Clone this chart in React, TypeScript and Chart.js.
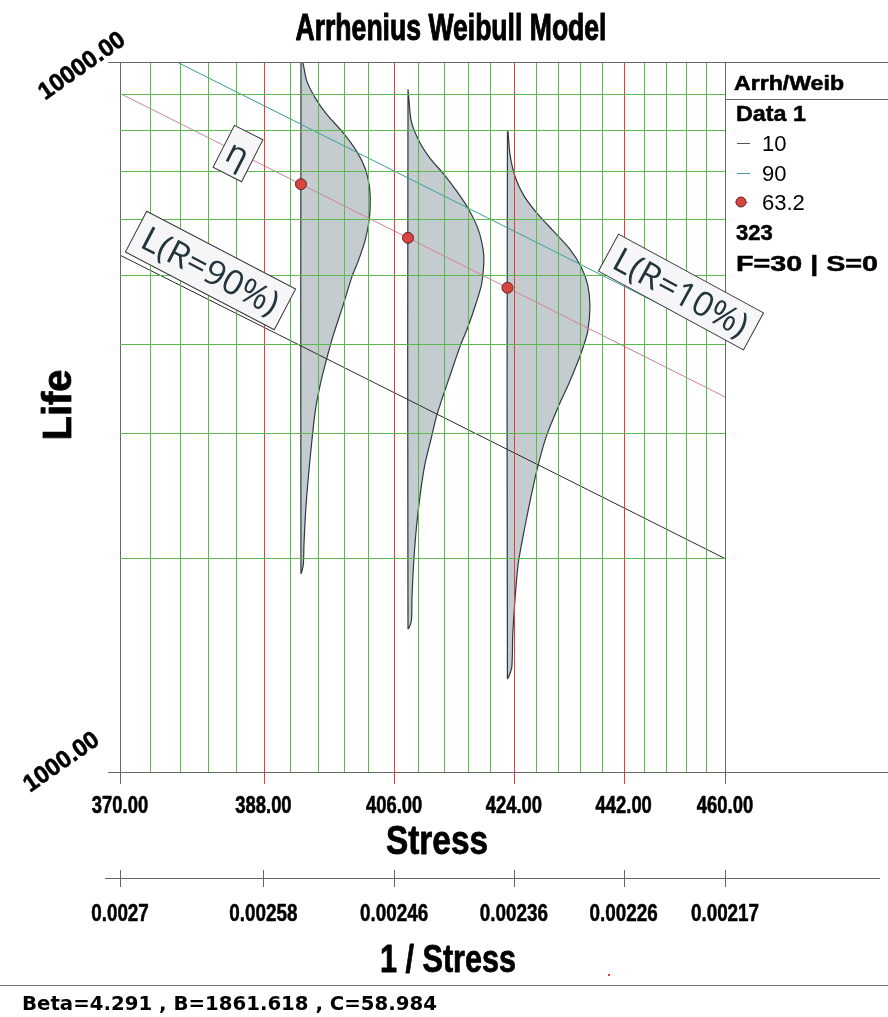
import React, { useEffect, useRef } from 'react';
import { Chart, registerables } from 'chart.js';

Chart.register(...registerables);

// ---- axis values ----
const labeledStress = [370, 388, 406, 424, 442, 460];
const gridStress = [
  370, 373.6, 377.2, 380.8, 384.4, 388, 391.6, 395.2, 398.8, 402.4, 406, 409.6, 413.2,
  416.8, 420.4, 424, 427.6, 431.2, 434.8, 438.4, 442, 445.6, 449.2, 452.8, 456.4, 460,
];
const reciprocalLabels = ['0.0027', '0.00258', '0.00246', '0.00236', '0.00226', '0.00217'];
const lifeGrid = [1000, 2000, 3000, 4000, 5000, 6000, 7000, 8000, 9000, 10000];

// ---- model parameters ----
const beta = 4.291;
const paramB = 1861.618;
const paramC = 58.984;

// ---- test stress levels and eta (63.2%) points ----
const testStress = [393, 408, 423];
const etaLife = [6729, 5654, 4809];

// ---- life lines, values at the two ends of the stress range ----
const lineStress = [370, 460];
const life10 = [5345, 1998];
const life632 = [9031, 3375];
const life90 = [10969, 4099];

// ---- pdf outlines at each stress (life, relative density) ----
const pdf1Life = [10000, 9414, 8910, 8436, 7941, 7477, 7074, 6697, 6341, 6001, 5618, 5260, 4981, 4561, 4131, 3824, 3503, 3210, 2908, 2605, 2334, 2091, 1958, 1905];
const pdf1Dens = [0.17, 0.57, 1.41, 2.58, 4.25, 5.59, 6.43, 6.83, 6.93, 6.83, 6.43, 5.76, 5.09, 4.25, 3.25, 2.58, 1.91, 1.41, 1.07, 0.74, 0.47, 0.3, 0.23, 0];
const pdf2Life = [9150, 8924, 8250, 7706, 7328, 6966, 6583, 6222, 5815, 5437, 5197, 4858, 4592, 4242, 3967, 3665, 3388, 3166, 2959, 2704, 2471, 2208, 1973, 1763, 1629, 1593];
const pdf2Dens = [0, 0.07, 0.33, 1.17, 2.17, 3.51, 4.85, 6.01, 7.01, 7.52, 7.58, 7.35, 6.85, 6.01, 5.18, 4.34, 3.51, 2.84, 2.34, 1.67, 1.24, 0.84, 0.57, 0.4, 0.33, 0];
const pdf3Life = [7985, 7399, 6898, 6505, 6135, 5788, 5458, 5149, 4856, 4527, 4170, 3888, 3540, 3262, 2970, 2705, 2463, 2217, 1972, 1754, 1560, 1404, 1356];
const pdf3Dens = [0.05, 0.26, 0.76, 1.58, 2.9, 4.55, 6.2, 7.36, 8.02, 8.25, 8.02, 7.36, 6.2, 5.05, 3.89, 3.07, 2.41, 1.75, 1.09, 0.76, 0.53, 0.43, 0];

// ---- legend text ----
const legendHeader = 'Arrh/Weib';
const legendGroup = 'Data 1';
const legendItems = ['10', '90', '63.2'];
const legendStress = '323';
const legendCounts = 'F=30 | S=0';

// ---- look ----
const W = 888;
const H = 1017;
const GREEN = '#5cba4c';
const RED = '#e23c3c';
const FRAME = '#666666';
const PINK = '#c9839f';
const TEAL = '#3a9da2';
const DARK = '#2a2a2a';
const PDF_FILL = '#c4ccd0';
const PDF_EDGE = '#2f3a40';
const DOT = '#d9443e';
const CLEAR = 'rgba(0,0,0,0)';
const SANS = '"Liberation Sans", Arial, sans-serif';
const WIDE = '"DejaVu Sans", sans-serif';
const THIN = '"Open Sans", "Liberation Sans", sans-serif';

// one density unit expressed in 1/stress units
const DENS_TO_X = 8.74e-6;

const yGridColors = lifeGrid.map((v) => (v === 1000 || v === 10000 ? FRAME : GREEN));
const yTickColors = lifeGrid.map((v) => (v === 1000 || v === 10000 ? FRAME : CLEAR));

function pdfPath(stress: number, lives: number[], dens: number[]) {
  const base = 1 / stress;
  const pts = lives.map((l, i) => ({ x: base - dens[i] * DENS_TO_X, y: l }));
  if (dens[0] !== 0) pts.unshift({ x: base, y: lives[0] });
  if (dens[dens.length - 1] !== 0) pts.push({ x: base, y: lives[lives.length - 1] });
  pts.push({ ...pts[0] });
  return pts;
}

type TxtOpts = { align?: CanvasTextAlign; w?: number; sx?: number; angle?: number; color?: string; heavy?: number };
function txt(ctx: CanvasRenderingContext2D, s: string, x: number, y: number, font: string, o: TxtOpts = {}) {
  ctx.save();
  ctx.font = font;
  const color = o.color ?? '#000';
  ctx.fillStyle = color;
  ctx.textAlign = o.align ?? 'left';
  ctx.textBaseline = 'alphabetic';
  const m = ctx.measureText(s).width;
  const sx = o.w ? o.w / m : o.sx ?? 1;
  ctx.translate(x, y);
  if (o.angle) ctx.rotate(o.angle);
  ctx.scale(sx, 1);
  ctx.fillText(s, 0, 0);
  if (o.heavy) {
    ctx.strokeStyle = color;
    ctx.lineWidth = o.heavy;
    ctx.lineJoin = 'round';
    ctx.strokeText(s, 0, 0);
  }
  ctx.restore();
}

function hline(ctx: CanvasRenderingContext2D, x1: number, x2: number, y: number, color: string) {
  ctx.beginPath();
  ctx.strokeStyle = color;
  ctx.lineWidth = 1;
  ctx.moveTo(x1, Math.round(y) + 0.5);
  ctx.lineTo(x2, Math.round(y) + 0.5);
  ctx.stroke();
}

function vline(ctx: CanvasRenderingContext2D, x: number, y1: number, y2: number, color: string) {
  ctx.beginPath();
  ctx.strokeStyle = color;
  ctx.lineWidth = 1;
  ctx.moveTo(Math.round(x) + 0.5, y1);
  ctx.lineTo(Math.round(x) + 0.5, y2);
  ctx.stroke();
}

function tag(ctx: CanvasRenderingContext2D, cx: number, cy: number, w: number, h: number, deg: number, s: string, tw?: number) {
  ctx.save();
  ctx.translate(cx, cy);
  ctx.rotate((deg * Math.PI) / 180);
  ctx.fillStyle = '#f6f6f8';
  ctx.fillRect(-w / 2, -h / 2, w, h);
  ctx.strokeStyle = '#3a3a3a';
  ctx.lineWidth = 1;
  ctx.strokeRect(-w / 2, -h / 2, w, h);
  ctx.restore();
  const a = (deg * Math.PI) / 180;
  const bx = cx - Math.sin(a) * 12;
  const by = cy + Math.cos(a) * 12;
  txt(ctx, s, bx, by, `400 34px ${THIN}`, { align: 'center', w: tw, color: '#22343c', angle: a });
}

// vertical stress grid, drawn above the pdf fills (snapped to even pixel columns)
const stressGrid = {
  id: 'stressGrid',
  afterDatasetsDraw(chart: any) {
    const ctx: CanvasRenderingContext2D = chart.ctx;
    const xs = chart.scales.x;
    const { top, bottom } = chart.chartArea;
    ctx.save();
    gridStress.forEach((s) => {
      const px = xs.getPixelForValue(1 / s);
      const col = Math.round(px / 2) * 2;
      const end = s === 370 || s === 460;
      const major = labeledStress.includes(s);
      const color = end ? FRAME : major ? RED : GREEN;
      vline(ctx, end ? px : col, top, major ? bottom + 12 : bottom, color);
    });
    ctx.restore();
  },
};

const overlay = {
  id: 'overlay',
  afterDraw(chart: any) {
    const ctx: CanvasRenderingContext2D = chart.ctx;
    const xs = chart.scales.x;
    const { top, bottom, right } = chart.chartArea;
    ctx.save();

    // title
    txt(ctx, 'Arrhenius Weibull Model', 451, 40, `bold 36px ${SANS}`, { align: 'center', w: 311, heavy: 1 });

    // y tick labels
    const tilt = (-35 * Math.PI) / 180;
    txt(ctx, '10000.00', 127, 43, `bold 24px ${SANS}`, { align: 'right', angle: tilt, heavy: 0.6 });
    txt(ctx, '1000.00', 101, 743, `bold 24px ${SANS}`, { align: 'right', angle: tilt, heavy: 0.6 });
    txt(ctx, 'Life', 71, 405, `bold 40px ${SANS}`, { align: 'center', angle: -Math.PI / 2, heavy: 0.8 });

    // stress tick labels
    labeledStress.forEach((s) => {
      const px = xs.getPixelForValue(1 / s);
      txt(ctx, s.toFixed(2), px, 813, `bold 23px ${SANS}`, { align: 'center', sx: 0.8, heavy: 0.6 });
    });
    txt(ctx, 'Stress', 437, 854, `bold 40px ${SANS}`, { align: 'center', w: 102, heavy: 0.8 });

    // reciprocal stress axis
    hline(ctx, 105, 880, 878, FRAME);
    labeledStress.forEach((s, i) => {
      const px = xs.getPixelForValue(1 / s);
      vline(ctx, px, 870, 887, FRAME);
      txt(ctx, reciprocalLabels[i], px, 921, `bold 23px ${SANS}`, { align: 'center', sx: 0.82, heavy: 0.5 });
    });
    txt(ctx, '1 / Stress', 448, 972, `bold 38px ${SANS}`, { align: 'center', w: 136, heavy: 0.8 });

    // footer
    hline(ctx, 0, W, 985, '#777');
    txt(ctx, `Beta=${beta} , B=${paramB} , C=${paramC}`, 22, 1010, `bold 20px ${WIDE}`, { w: 415 });
    ctx.fillStyle = RED;
    ctx.fillRect(608, 974, 2, 2);

    // legend panel
    hline(ctx, right, W, top, FRAME);
    hline(ctx, right, W, bottom, FRAME);
    hline(ctx, right, W, 99, FRAME);
    txt(ctx, legendHeader, 734, 90, `bold 21px ${SANS}`, { w: 110, heavy: 0.6 });
    txt(ctx, legendGroup, 736, 121, `bold 22px ${SANS}`, { w: 70, heavy: 0.5 });
    const itemColors = ['#555', TEAL];
    legendItems.forEach((s, i) => {
      const y = 143 + i * 29.5;
      if (i < 2) {
        hline(ctx, 737, 750, y, itemColors[i]);
      } else {
        hline(ctx, 735, 748, y, PINK);
        ctx.beginPath();
        ctx.arc(741, y, 5, 0, Math.PI * 2);
        ctx.fillStyle = DOT;
        ctx.fill();
        ctx.strokeStyle = '#5a2a2a';
        ctx.lineWidth = 1;
        ctx.stroke();
      }
      txt(ctx, s, 762, y + 8, `22px ${SANS}`);
    });
    txt(ctx, legendStress, 736, 240, `bold 22px ${SANS}`, { heavy: 0.5 });
    txt(ctx, legendCounts, 736, 271, `bold 22px ${SANS}`, { w: 142, heavy: 0.5 });

    // curve labels
    tag(ctx, 238, 153.5, 32, 47, 27, 'η');
    tag(ctx, 210.5, 270.5, 168, 46, 27.6, 'L(R=90%)', 150);
    tag(ctx, 681, 292, 165, 42, 28.5, 'L(R=10%)', 148);

    ctx.restore();
  },
};

export default function App() {
  const ref = useRef<HTMLCanvasElement>(null);

  useEffect(() => {
    const pdfStyle = {
      type: 'line' as const,
      fill: 'shape',
      backgroundColor: PDF_FILL,
      borderColor: PDF_EDGE,
      borderWidth: 1.2,
      pointRadius: 0,
      tension: 0.25,
      order: 2,
    };
    const lineStyle = { type: 'line' as const, borderWidth: 1, pointRadius: 0, fill: false, order: 1 };

    const chart = new Chart(ref.current as HTMLCanvasElement, {
      type: 'line',
      data: {
        datasets: [
          {
            type: 'scatter',
            data: testStress.map((s, i) => ({ x: 1 / s, y: etaLife[i] })),
            pointRadius: 5.5,
            pointBackgroundColor: DOT,
            pointBorderColor: '#5a2a2a',
            pointBorderWidth: 1,
            showLine: false,
            order: 0,
          },
          { ...lineStyle, data: lineStress.map((s, i) => ({ x: 1 / s, y: life632[i] })), borderColor: PINK },
          { ...lineStyle, data: lineStress.map((s, i) => ({ x: 1 / s, y: life90[i] })), borderColor: TEAL },
          { ...lineStyle, data: lineStress.map((s, i) => ({ x: 1 / s, y: life10[i] })), borderColor: DARK },
          { ...pdfStyle, data: pdfPath(testStress[0], pdf1Life, pdf1Dens) },
          { ...pdfStyle, data: pdfPath(testStress[1], pdf2Life, pdf2Dens) },
          { ...pdfStyle, data: pdfPath(testStress[2], pdf3Life, pdf3Dens) },
        ] as any,
      },
      options: {
        responsive: false,
        devicePixelRatio: 1,
        animation: false,
        events: [],
        layout: { padding: { left: 0, top: 62, right: W - 725, bottom: 0 } },
        plugins: { legend: { display: false }, title: { display: false }, tooltip: { enabled: false } },
        scales: {
          x: {
            type: 'linear',
            reverse: true,
            min: 1 / 460,
            max: 1 / 370,
            afterBuildTicks: (s: any) => {
              s.ticks = gridStress.map((v) => ({ value: 1 / v }));
            },
            afterFit: (s: any) => {
              s.height = H - 772;
            },
            ticks: { display: false },
            border: { display: false },
            grid: { display: false },
          },
          y: {
            type: 'logarithmic',
            min: 1000,
            max: 10000,
            afterBuildTicks: (s: any) => {
              s.ticks = lifeGrid.map((v) => ({ value: v }));
            },
            afterFit: (s: any) => {
              s.width = 120;
            },
            ticks: { display: false },
            border: { display: false },
            grid: { z: 1, lineWidth: 1, tickLength: 12, color: yGridColors, tickColor: yTickColors },
          },
        },
      } as any,
      plugins: [stressGrid, overlay],
    });
    return () => chart.destroy();
  }, []);

  return (
    <div style={{ position: 'absolute', left: 0, top: 0, width: W, height: H, background: '#fff' }}>
      <canvas ref={ref} width={W} height={H} style={{ display: 'block', width: W, height: H }} />
    </div>
  );
}
